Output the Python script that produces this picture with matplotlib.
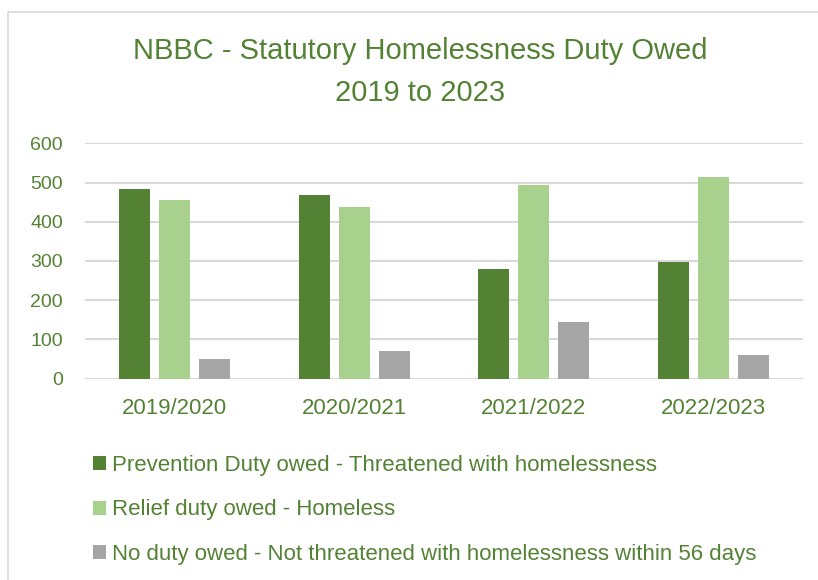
import matplotlib.pyplot as plt
import numpy as np
from matplotlib.patches import Patch, Rectangle

YEARS = ["2019/2020", "2020/2021", "2021/2022", "2022/2023"]
PREVENTION = [484, 467, 279, 298]
RELIEF = [455, 438, 494, 515]
NO_DUTY = [49, 70, 144, 60]

SERIES = [
    ("Prevention Duty owed - Threatened with homelessness", PREVENTION, "#548235"),
    ("Relief duty owed - Homeless", RELIEF, "#A9D18E"),
    ("No duty owed - Not threatened with homelessness within 56 days", NO_DUTY, "#A5A5A5"),
]
TEXT = "#548235"

plt.rcParams["font.family"] = ["Liberation Sans", "DejaVu Sans"]

fig = plt.figure(figsize=(8.18, 5.8), dpi=100)
# light chart frame, open to the right and bottom
fig.patches.append(Rectangle((8 / 818, -0.1), 1.2, 1 - 12 / 580 + 0.1, transform=fig.transFigure,
                             facecolor="white", edgecolor="#D9D9D9", linewidth=1.2, zorder=-1))

ax = fig.add_axes([85 / 818, 1 - 378.7 / 580, 718 / 818, (378.7 - 143.3) / 580])
x = np.arange(len(YEARS))
width = 0.173
step = 0.223
for i, (label, vals, color) in enumerate(SERIES):
    ax.bar(x + (i - 1) * step, vals, width, color=color, label=label, zorder=3)

ax.set_xlim(-0.5, len(YEARS) - 0.5)
ax.set_ylim(0, 600)
ax.set_yticks(range(0, 601, 100))
ax.grid(axis="y", color="#D9D9D9", linewidth=1.5, zorder=0)
for s in ax.spines.values():
    s.set_visible(False)
ax.tick_params(length=0, colors=TEXT)
ax.tick_params(axis="y", pad=16, labelsize=14)
ax.tick_params(axis="x", pad=14, labelsize=16)
ax.set_xticks(x)
ax.set_xticklabels(YEARS)

title_x = 420 / 818
fig.text(title_x, 1 - 51 / 580, "NBBC - Statutory Homelessness Duty Owed", ha="center", va="center",
         fontsize=21, color=TEXT)
fig.text(title_x, 1 - 93 / 580, "2019 to 2023", ha="center", va="center", fontsize=21, color=TEXT)

handles = [Patch(facecolor=c, label=l) for l, _, c in SERIES]
fig.legend(handles=handles, loc="upper left", bbox_to_anchor=(82 / 818, 1 - 444 / 580), frameon=False,
           fontsize=16, labelcolor=TEXT, handlelength=0.6, handleheight=0.6, handletextpad=0.25,
           labelspacing=1.05, borderpad=0)

fig.savefig("out.png", dpi=100)
